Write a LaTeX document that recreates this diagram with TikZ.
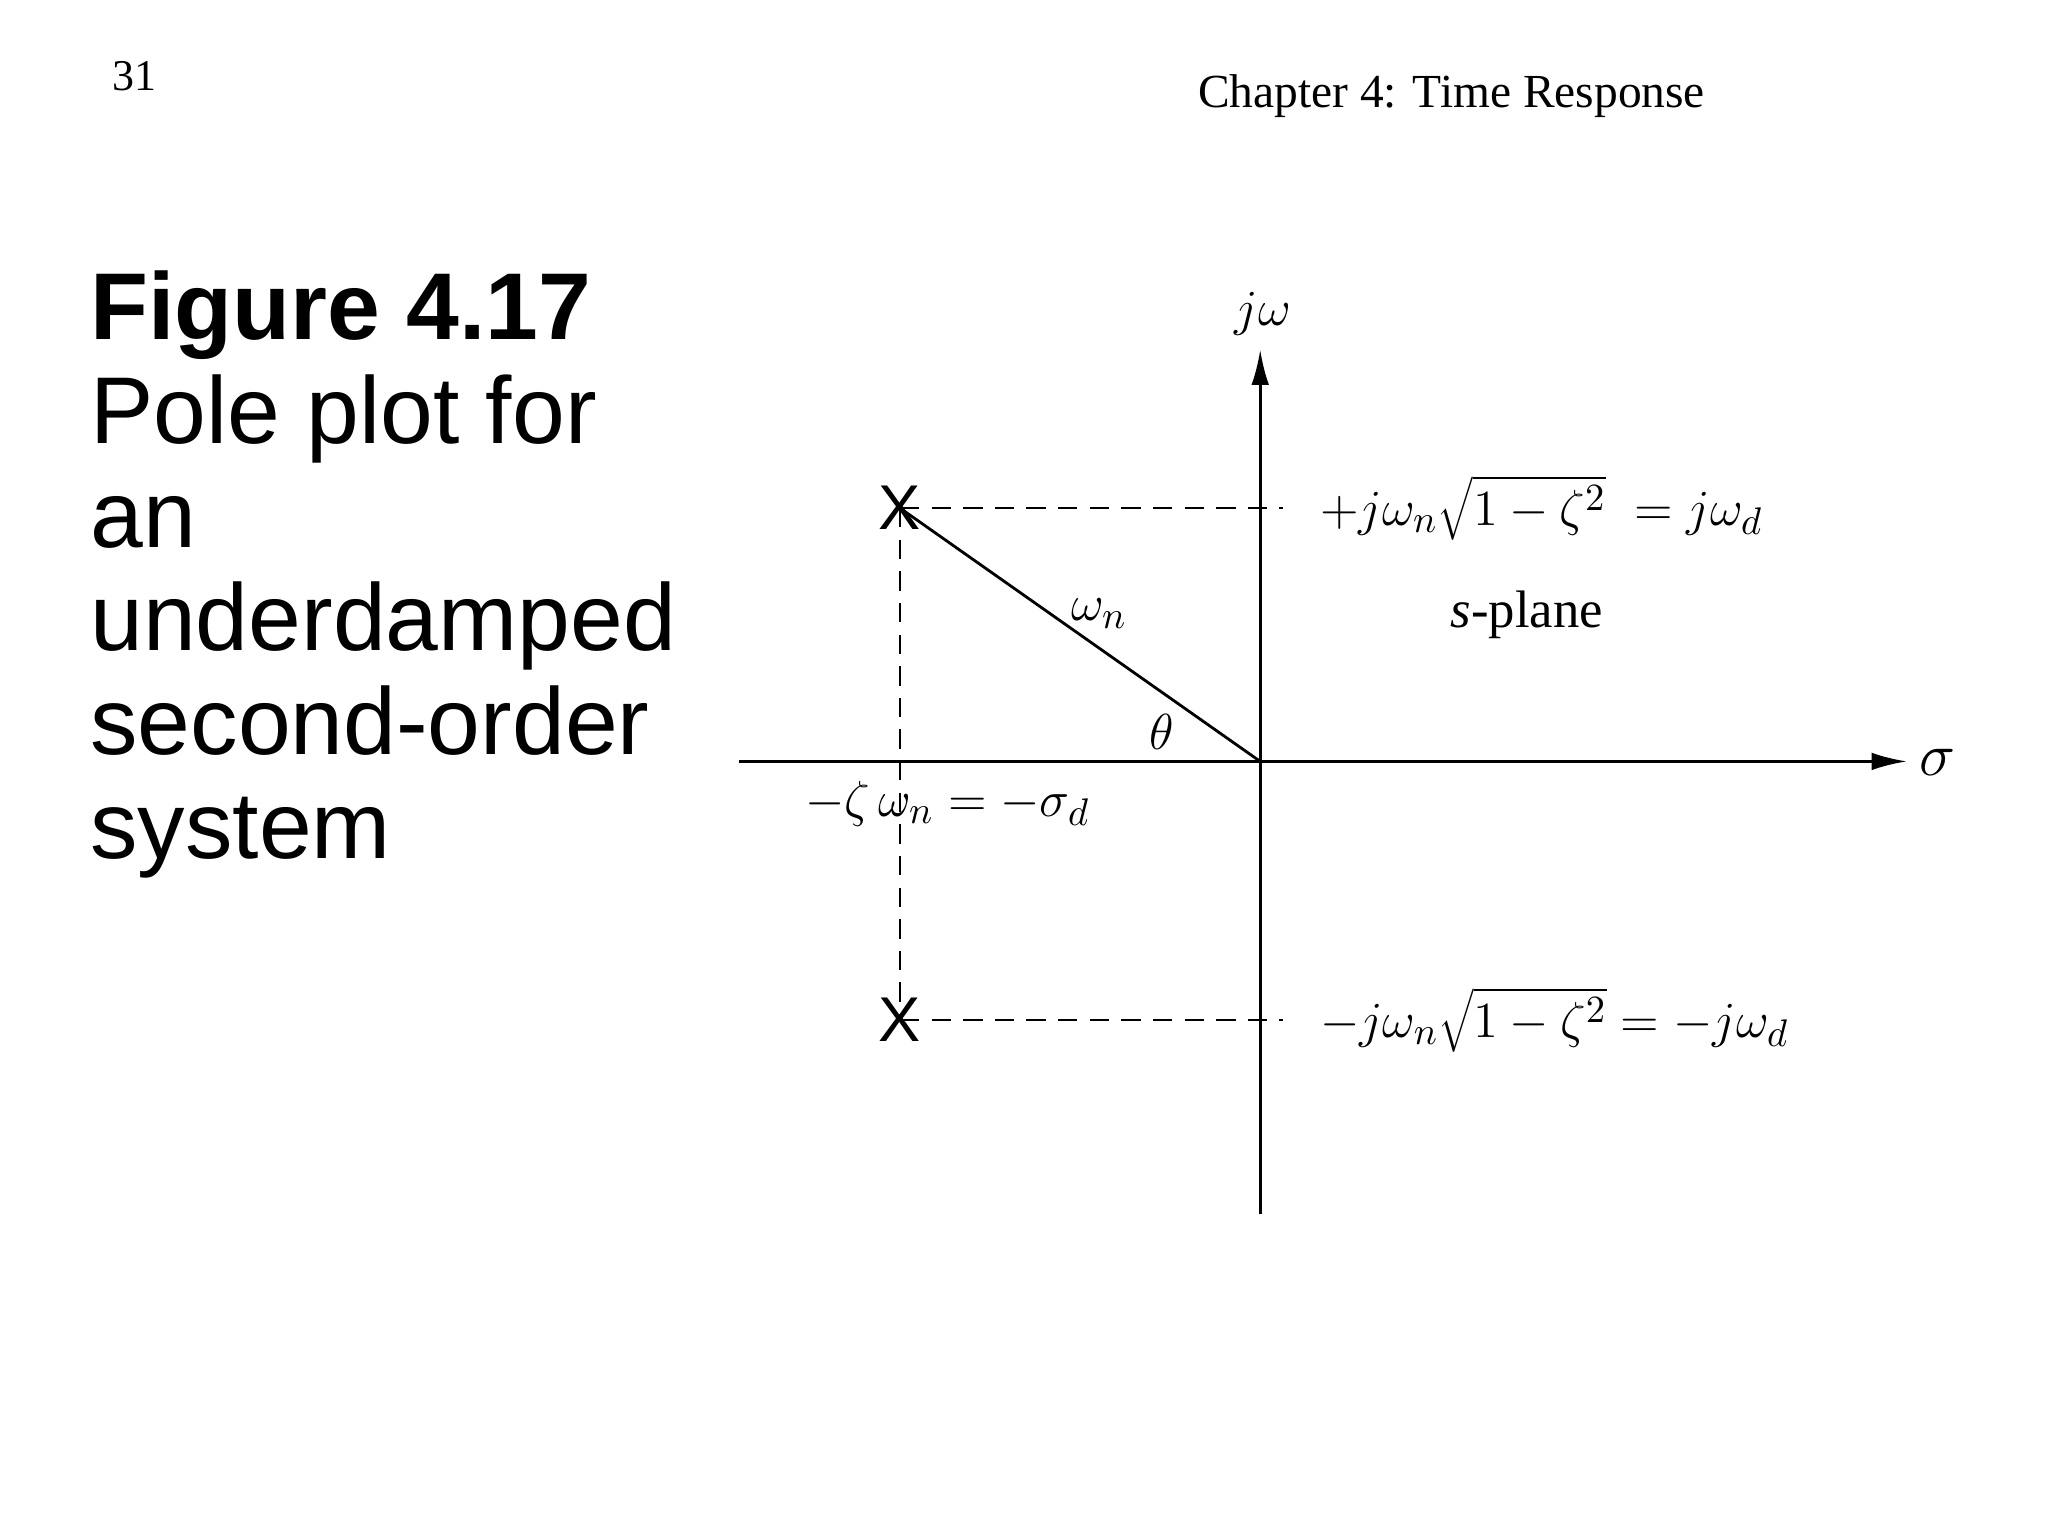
\documentclass[tikz,border=0pt]{standalone}
\usepackage{fontspec}
\setmainfont{Liberation Serif}
\newfontfamily\arialf{Liberation Sans}
\usetikzlibrary{arrows.meta}
\begin{document}
\begin{tikzpicture}[x=0.013196cm,y=-0.013196cm,
  axis/.style={line width=0.8pt},
  dsh/.style={dashed,dash pattern=on 5.5pt off 3.5pt,line width=0.8pt},
  lbl/.style={font=\fontsize{15}{18}\selectfont,inner sep=0pt},
  pole/.style={font=\fontsize{18}{18}\selectfont\arialf,inner sep=0pt}]
\useasboundingbox[fill=white] (0,0) rectangle (1552,1164);
\node[font=\fontsize{12.5}{14}\selectfont] (pg) at (102,58) {31};
\node[font=\fontsize{13.5}{16}\selectfont] (ch) at (1100,73) {Chapter 4: Time Response};
\node[anchor=north west,align=left,inner sep=0pt,font=\fontsize{27}{29.5}\selectfont\arialf] (cap) at (68,205)
 {\textbf{Figure 4.17}\\Pole plot for\\an\\underdamped\\second-order\\system};
\coordinate (o) at (955,577);
\coordinate (xl) at (560,577);
\coordinate (xr) at (1445,577);
\coordinate (yb) at (955,920);
\coordinate (yt) at (955,265);
\draw[axis,-{Latex[length=10pt,width=5pt]}] (xl) -- (xr);
\draw[axis,-{Latex[length=10pt,width=5pt]}] (yb) -- (yt);
\node[pole] (p1) at (682,385) {X};
\node[pole] (p2) at (682,773) {X};
\coordinate (d1) at (972,385);
\coordinate (d2) at (972,773);
\draw[dsh] (p1.center) -- (d1);
\draw[dsh] (p2.center) -- (d2);
\draw[dsh] (p1.center) -- (p2.center);
\draw[line width=0.8pt] (p1.center) -- (o);
\node[lbl] (jw) at (957,238) {$j\omega$};
\node[lbl,font=\fontsize{17}{18}\selectfont] (sg) at (1468,578) {$\sigma$};
\node[lbl] (wn) at (833,465) {$\omega_n$};
\node[lbl] (th) at (880,555) {$\theta$};
\node[lbl] (sp) at (1157,466) {\textit{s}-plane};
\node[lbl] (sd) at (718,609) {$-\zeta\,\omega_n=-\sigma_d$};
\node[lbl,anchor=west] (up) at (1000,385) {$+j\omega_n\sqrt{1-\zeta^2}\;=j\omega_d$};
\node[lbl,anchor=west] (dn) at (1000,773) {$-j\omega_n\sqrt{1-\zeta^2}=-j\omega_d$};
\end{tikzpicture}
\end{document}
